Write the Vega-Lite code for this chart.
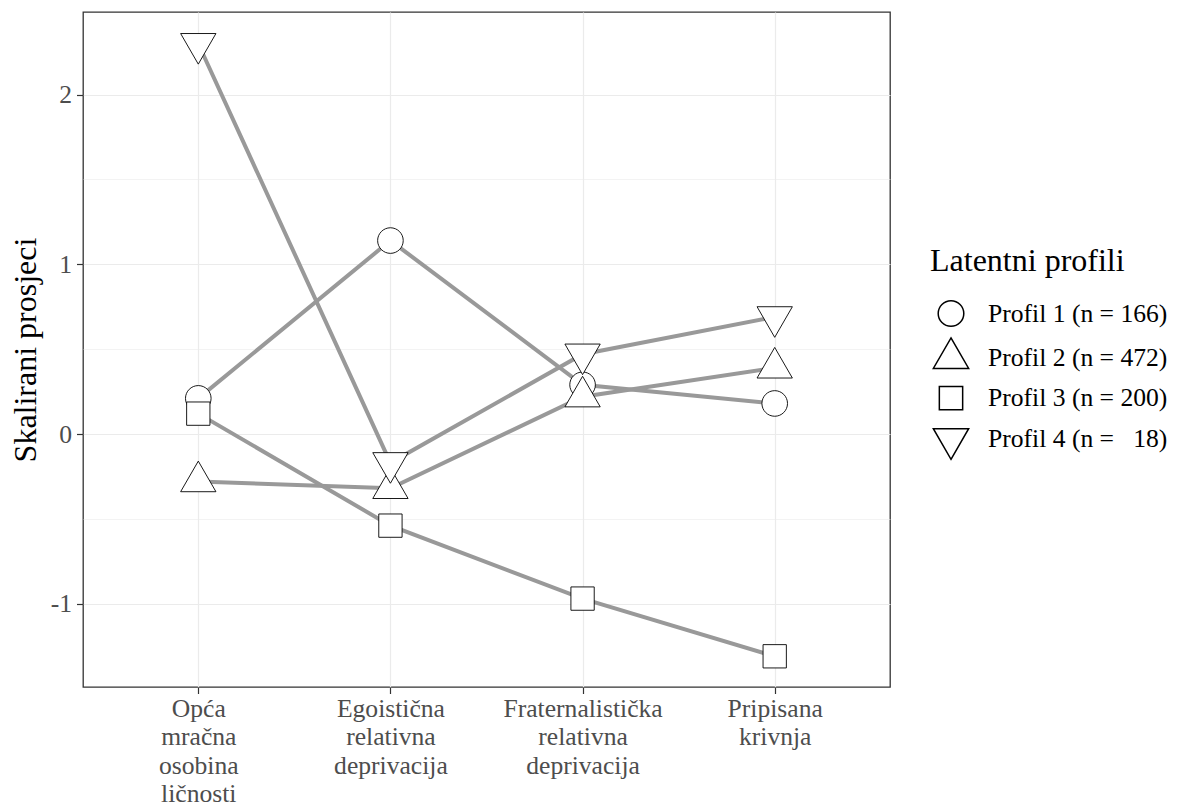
{
  "$schema": "https://vega.github.io/schema/vega-lite/v6.json",
  "width": 807,
  "height": 675,
  "autosize": {"type": "none"},
  "padding": {"left": 83, "top": 12, "right": 292, "bottom": 120},
  "background": "white",
  "data": {
    "values": [
      {"profil": "Profil 1 (n = 166)", "varijabla": "Opća mračna osobina ličnosti", "vrijednost": 0.21},
      {"profil": "Profil 1 (n = 166)", "varijabla": "Egoistična relativna deprivacija", "vrijednost": 1.14},
      {"profil": "Profil 1 (n = 166)", "varijabla": "Fraternalistička relativna deprivacija", "vrijednost": 0.29},
      {"profil": "Profil 1 (n = 166)", "varijabla": "Pripisana krivnja", "vrijednost": 0.18},
      {"profil": "Profil 2 (n = 472)", "varijabla": "Opća mračna osobina ličnosti", "vrijednost": -0.28},
      {"profil": "Profil 2 (n = 472)", "varijabla": "Egoistična relativna deprivacija", "vrijednost": -0.32},
      {"profil": "Profil 2 (n = 472)", "varijabla": "Fraternalistička relativna deprivacija", "vrijednost": 0.22},
      {"profil": "Profil 2 (n = 472)", "varijabla": "Pripisana krivnja", "vrijednost": 0.39},
      {"profil": "Profil 3 (n = 200)", "varijabla": "Opća mračna osobina ličnosti", "vrijednost": 0.12},
      {"profil": "Profil 3 (n = 200)", "varijabla": "Egoistična relativna deprivacija", "vrijednost": -0.54},
      {"profil": "Profil 3 (n = 200)", "varijabla": "Fraternalistička relativna deprivacija", "vrijednost": -0.97},
      {"profil": "Profil 3 (n = 200)", "varijabla": "Pripisana krivnja", "vrijednost": -1.31},
      {"profil": "Profil 4 (n = \u00a0\u00a018)", "varijabla": "Opća mračna osobina ličnosti", "vrijednost": 2.30},
      {"profil": "Profil 4 (n = \u00a0\u00a018)", "varijabla": "Egoistična relativna deprivacija", "vrijednost": -0.17},
      {"profil": "Profil 4 (n = \u00a0\u00a018)", "varijabla": "Fraternalistička relativna deprivacija", "vrijednost": 0.47},
      {"profil": "Profil 4 (n = \u00a0\u00a018)", "varijabla": "Pripisana krivnja", "vrijednost": 0.69}
    ]
  },
  "encoding": {
    "x": {
      "field": "varijabla",
      "type": "nominal",
      "sort": ["Opća mračna osobina ličnosti", "Egoistična relativna deprivacija", "Fraternalistička relativna deprivacija", "Pripisana krivnja"],
      "scale": {"type": "point", "padding": 0.6},
      "axis": {
        "title": null,
        "labelExpr": "split(datum.label, ' ')",
        "labelAngle": 0,
        "labelFontSize": 25.6,
        "labelColor": "#4D4D4D",
        "labelLineHeight": 28.3,
        "labelPadding": 3,
        "tickSize": 6.5,
        "tickColor": "#333333",
        "tickWidth": 1.2,
        "domain": false,
        "grid": true,
        "gridColor": "#EBEBEB",
        "gridWidth": 1.2
      }
    },
    "y": {
      "field": "vrijednost",
      "type": "quantitative",
      "scale": {"domain": [-1.491, 2.487], "nice": false, "zero": false},
      "axis": {
        "title": "Skalirani prosjeci",
        "titleFontSize": 32,
        "titleFontWeight": "normal",
        "titleColor": "black",
        "titlePadding": 8,
        "values": [-1, -0.5, 0, 0.5, 1, 1.5, 2],
        "labelExpr": "datum.value % 1 === 0 ? '' + datum.value : ''",
        "labelFontSize": 25.6,
        "labelColor": "#4D4D4D",
        "labelPadding": 5,
        "tickSize": 6.5,
        "tickColor": "#333333",
        "tickWidth": 1.2,
        "tickOpacity": {"condition": {"test": "datum.value % 1 !== 0", "value": 0}, "value": 1},
        "domain": false,
        "grid": true,
        "gridColor": "#EBEBEB",
        "gridWidth": {"condition": {"test": "datum.value % 1 !== 0", "value": 0.6}, "value": 1.2}
      }
    }
  },
  "layer": [
    {
      "mark": {"type": "line", "color": "#999999", "strokeWidth": 4},
      "encoding": {"detail": {"field": "profil", "type": "nominal"}}
    },
    {
      "mark": {"type": "point", "filled": true, "fill": "white", "stroke": "black", "strokeWidth": 0.9, "opacity": 1, "size": 1600},
      "encoding": {
        "shape": {
          "field": "profil",
          "type": "nominal",
          "scale": {
            "domain": ["Profil 1 (n = 166)", "Profil 2 (n = 472)", "Profil 3 (n = 200)", "Profil 4 (n = \u00a0\u00a018)"],
            "range": [
              "M0.64,0A0.64,0.64 0 1,1 -0.64,0A0.64,0.64 0 1,1 0.64,0Z",
              "M0,-1.02L0.883,0.51L-0.883,0.51Z",
              "M-0.583,-0.583H0.583V0.583H-0.583Z",
              "M0,1.02L0.883,-0.51L-0.883,-0.51Z"
            ]
          },
          "legend": {
            "title": "Latentni profili",
            "orient": "none",
            "legendX": 847,
            "legendY": 234,
            "titleFontSize": 32,
            "titleFontWeight": "normal",
            "titleColor": "black",
            "titlePadding": 14.5,
            "titleLimit": 0,
            "labelFontSize": 25.6,
            "labelColor": "black",
            "labelLimit": 0,
            "labelOffset": 16,
            "symbolSize": 1600,
            "rowPadding": 4.8
          }
        }
      }
    }
  ],
  "config": {
    "font": "Liberation Serif",
    "view": {"stroke": "#333333", "strokeWidth": 1.3}
  }
}
